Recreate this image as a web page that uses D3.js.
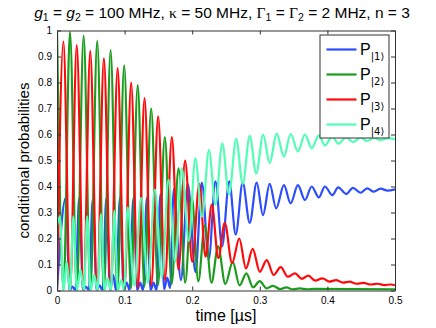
<!DOCTYPE html>
<html>
<head>
<meta charset="utf-8">
<script src="https://cdn.jsdelivr.net/npm/d3@7"></script>
<style>
  body { margin: 0; background: #fff; }
  svg text { font-family: "Liberation Sans", Arial, sans-serif; fill: #000; }
</style>
</head>
<body>
<svg id="chart" width="436" height="328"></svg>
<script>
// tick labels
const xTicks = [0, 0.1, 0.2, 0.3, 0.4, 0.5];
const yTicks = [0, 0.1, 0.2, 0.3, 0.4, 0.5, 0.6, 0.7, 0.8, 0.9, 1];
const legendLabels = ['|1\u27E9', '|2\u27E9', '|3\u27E9', '|4\u27E9'];

// extrema: [time in us, probability]
const p1 = [
  [0, 0], [0.0129, 0.356], [0.0185, 0], [0.0229, 0.015], [0.0272, 0],
  [0.0328, 0.356], [0.0385, 0], [0.0429, 0.015], [0.0472, 0],
  [0.0529, 0.352], [0.0586, 0], [0.063, 0.02], [0.0673, 0],
  [0.073, 0.355], [0.0786, 0], [0.083, 0.06], [0.0873, 0],
  [0.0931, 0.356], [0.0988, 0], [0.1031, 0.03], [0.1074, 0],
  [0.113, 0.355], [0.1187, 0], [0.123, 0.03], [0.1273, 0],
  [0.1329, 0.356], [0.1385, 0], [0.1429, 0.03], [0.1472, 0],
  [0.153, 0.37], [0.1586, 0.005], [0.163, 0.05], [0.1673, 0.01],
  [0.1728, 0.39], [0.1833, 0.04], [0.1935, 0.41], [0.2049, 0.07],
  [0.2142, 0.415], [0.2245, 0.12], [0.2344, 0.42], [0.2442, 0.17],
  [0.2548, 0.42], [0.2644, 0.215], [0.2747, 0.415], [0.2851, 0.26],
  [0.2954, 0.415], [0.3047, 0.29], [0.3146, 0.41], [0.3242, 0.316],
  [0.3357, 0.405], [0.3456, 0.335], [0.3564, 0.405], [0.3668, 0.348],
  [0.3767, 0.40], [0.3874, 0.358], [0.3963, 0.40], [0.4072, 0.367],
  [0.4161, 0.397], [0.4279, 0.371], [0.4377, 0.395], [0.449, 0.376],
  [0.4589, 0.393], [0.4687, 0.38], [0.4786, 0.392], [0.489, 0.384],
  [0.5, 0.389]
];
const p2 = [
  [0, 1.0], [0.0096, 0], [0.0192, 0.995], [0.0293, 0], [0.0394, 0.98],
  [0.0494, 0], [0.0595, 0.96], [0.0694, 0], [0.0793, 0.925], [0.0893, 0.003],
  [0.0994, 0.866], [0.1094, 0.008], [0.1194, 0.79], [0.1293, 0.015],
  [0.1393, 0.70], [0.1494, 0.02], [0.1595, 0.59], [0.1696, 0.025],
  [0.1798, 0.47], [0.1896, 0.03], [0.1994, 0.36], [0.209, 0.035],
  [0.2186, 0.25], [0.2285, 0.03], [0.2383, 0.17], [0.249, 0.025],
  [0.26, 0.11], [0.27, 0.02], [0.2802, 0.066], [0.29, 0.012],
  [0.2999, 0.036], [0.31, 0.008], [0.3195, 0.018], [0.33, 0.005],
  [0.3393, 0.012], [0.349, 0.004], [0.359, 0.008], [0.37, 0.004],
  [0.38, 0.006], [0.5, 0.004]
];
const p3 = [
  [0, 0], [0.0095, 0.957], [0.0194, 0], [0.0292, 0.944], [0.0393, 0],
  [0.0492, 0.922], [0.0593, 0], [0.0694, 0.893], [0.0795, 0],
  [0.0897, 0.855], [0.0997, 0.005], [0.1097, 0.80], [0.1196, 0.01],
  [0.1295, 0.74], [0.1395, 0.02], [0.1496, 0.67], [0.1597, 0.04],
  [0.1699, 0.59], [0.1797, 0.08], [0.1895, 0.50], [0.20, 0.11],
  [0.2105, 0.41], [0.2197, 0.13], [0.229, 0.33], [0.2386, 0.125],
  [0.2482, 0.26], [0.259, 0.105], [0.2696, 0.20], [0.2795, 0.085],
  [0.2895, 0.16], [0.30, 0.072], [0.3102, 0.117], [0.3205, 0.06],
  [0.3309, 0.09], [0.3415, 0.053], [0.352, 0.066], [0.362, 0.045],
  [0.3718, 0.057], [0.382, 0.038], [0.3925, 0.047], [0.4027, 0.034],
  [0.4128, 0.040], [0.423, 0.03], [0.4328, 0.034], [0.443, 0.026],
  [0.4535, 0.029], [0.464, 0.023], [0.4742, 0.026], [0.484, 0.021],
  [0.4941, 0.023], [0.5, 0.02]
];
const p4 = [
  [0, 0.25], [0.0044, 0.285], [0.0096, 0], [0.0143, 0.11], [0.0192, 0],
  [0.0242, 0.285], [0.0295, 0], [0.0347, 0.08], [0.0399, 0],
  [0.0446, 0.285], [0.0498, 0], [0.055, 0.06], [0.06, 0],
  [0.065, 0.294], [0.0702, 0], [0.075, 0.048], [0.0798, 0],
  [0.0849, 0.307], [0.0901, 0], [0.095, 0.04], [0.0994, 0],
  [0.1044, 0.32], [0.1142, 0.02], [0.1245, 0.356], [0.1344, 0.03],
  [0.1448, 0.388], [0.1551, 0.05], [0.165, 0.426], [0.1747, 0.11],
  [0.1846, 0.47], [0.195, 0.19], [0.2046, 0.508], [0.2146, 0.284],
  [0.2248, 0.54], [0.2344, 0.33], [0.2445, 0.566], [0.2545, 0.37],
  [0.2651, 0.583], [0.2747, 0.41], [0.2851, 0.595], [0.2947, 0.45],
  [0.305, 0.60], [0.3146, 0.49], [0.325, 0.603], [0.3357, 0.515],
  [0.3456, 0.602], [0.3564, 0.534], [0.3668, 0.60], [0.3767, 0.547],
  [0.3874, 0.597], [0.3963, 0.558], [0.4072, 0.593], [0.4161, 0.565],
  [0.4279, 0.59], [0.4377, 0.571], [0.449, 0.588], [0.4589, 0.575],
  [0.4687, 0.587], [0.4786, 0.578], [0.4885, 0.586], [0.5, 0.582]
];

const colors = ['#2b4cff', '#1c9c1c', '#ff0a0a', '#50ffb4'];
const series = [p1, p2, p3, p4];

const svg = d3.select('#chart');
const margin = { top: 30.5, right: 41, bottom: 37.5, left: 57 },
  width = 436 - margin.left - margin.right,
  height = 328 - margin.top - margin.bottom;

const x = d3.scaleLinear().domain([0, 0.5]).range([0, width]);
const y = d3.scaleLinear().domain([0, 1]).range([height, 0]);

const g = svg.append('g')
  .attr('transform', 'translate(' + margin.left + ',' + margin.top + ')');

g.append('rect').attr('width', width).attr('height', height).attr('fill', '#fff');

g.append('clipPath').attr('id', 'clip')
  .append('rect').attr('width', width).attr('height', height);

const line = d3.line()
  .x(d => x(d[0]))
  .y(d => y(d[1]))
  .curve(d3.curveMonotoneX);

g.append('g').attr('clip-path', 'url(#clip)')
  .selectAll('path')
  .data(series)
  .enter().append('path')
  .attr('d', line)
  .attr('fill', 'none')
  .attr('stroke', (d, i) => colors[i])
  .attr('stroke-width', 2.2)
  .attr('stroke-linejoin', 'round');

// axes, ticks point inward like matlab
const fmt = d3.format('~g');
function styleAxis(sel) {
  sel.selectAll('path, line').attr('stroke', '#333');
  sel.selectAll('text').style('font-size', '10px').attr('fill', '#000');
}
g.append('g').attr('transform', 'translate(0,' + height + ')')
  .call(d3.axisBottom(x).tickValues(xTicks).tickFormat(fmt)
    .tickSizeInner(-4).tickSizeOuter(0).tickPadding(6))
  .call(styleAxis);
g.append('g')
  .call(d3.axisTop(x).tickValues(xTicks).tickFormat('')
    .tickSizeInner(-4).tickSizeOuter(0))
  .call(styleAxis);
g.append('g')
  .call(d3.axisLeft(y).tickValues(yTicks).tickFormat(fmt)
    .tickSizeInner(-4).tickSizeOuter(0).tickPadding(5))
  .call(styleAxis);
g.append('g').attr('transform', 'translate(' + width + ',0)')
  .call(d3.axisRight(y).tickValues(yTicks).tickFormat('')
    .tickSizeInner(-4).tickSizeOuter(0))
  .call(styleAxis);

// axis labels
svg.append('text')
  .attr('x', margin.left + width / 2).attr('y', 321)
  .attr('text-anchor', 'middle').style('font-size', '16px')
  .text('time [\u00B5s]');
svg.append('text')
  .attr('transform', 'translate(29,' + (margin.top + height / 2) + ') rotate(-90)')
  .attr('text-anchor', 'middle').style('font-size', '15px')
  .text('conditional probabilities');

// title
const title = svg.append('text')
  .attr('x', 222).attr('y', 17.5)
  .attr('text-anchor', 'middle').style('font-size', '15.5px');
const serif = '"Liberation Serif", "DejaVu Serif", serif';
const parts = [
  ['g', 'i'], ['1', 's'], [' = ', ''], ['g', 'i'], ['2', 's'],
  [' = 100 MHz, ', ''], ['\u03BA', 'f'], [' = 50 MHz, ', ''],
  ['\u0393', 'f'], ['1', 's'], [' = ', ''], ['\u0393', 'f'], ['2', 's'],
  [' = 2 MHz, n = 3', '']
];
let lastSub = false;
parts.forEach(p => {
  const t = title.append('tspan').text(p[0]);
  if (p[1] === 'i') t.style('font-style', 'italic');
  if (p[1] === 'f') t.style('font-family', serif);
  if (p[1] === 's') { t.attr('dy', 3.5).style('font-size', '10.5px'); lastSub = true; }
  else if (lastSub) { t.attr('dy', -3.5); lastSub = false; }
});

// legend
const legend = svg.append('g').attr('transform', 'translate(320,35)');
legend.append('rect')
  .attr('width', 69).attr('height', 103)
  .attr('fill', '#fff').attr('stroke', '#333').attr('stroke-width', 1);
const rows = legend.selectAll('g.row')
  .data(legendLabels)
  .enter().append('g')
  .attr('transform', (d, i) => 'translate(0,' + (14.5 + i * 25) + ')');
rows.append('line')
  .attr('x1', 6.5).attr('x2', 36.5)
  .attr('stroke', (d, i) => colors[i]).attr('stroke-width', 2.2);
const lt = rows.append('text').attr('x', 40).attr('y', 5.5).style('font-size', '16px');
lt.append('tspan').text('P');
lt.append('tspan').attr('dy', 4.5).style('font-size', '10px')
  .style('font-family', '"DejaVu Sans", sans-serif').text(d => d);
</script>
</body>
</html>
